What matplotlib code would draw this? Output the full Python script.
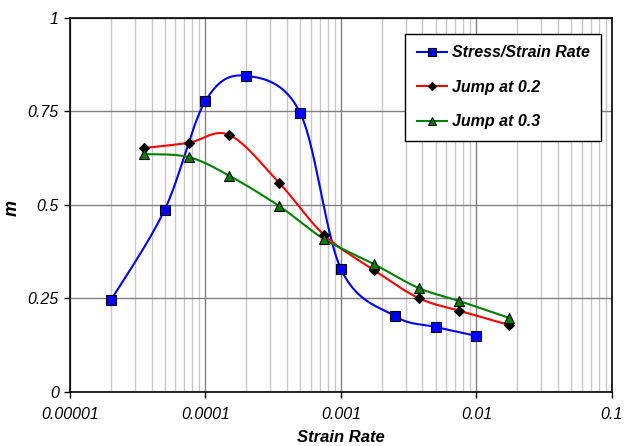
import numpy as np
import matplotlib
matplotlib.use("Agg")
import matplotlib.pyplot as plt
from matplotlib.ticker import FixedLocator, NullFormatter, LogLocator

plt.rcParams['font.family'] = ['Liberation Sans', 'DejaVu Sans']

# Data
stress_x = [2e-5, 5e-5, 1e-4, 2e-4, 5e-4, 1e-3, 2.5e-3, 5e-3, 1e-2]
stress_y = [0.245, 0.487, 0.778, 0.845, 0.746, 0.329, 0.203, 0.174, 0.150]

jump_x = [3.5e-5, 7.5e-5, 1.5e-4, 3.5e-4, 7.5e-4, 1.75e-3, 3.75e-3, 7.5e-3, 1.75e-2]
jump02_y = [0.652, 0.666, 0.687, 0.559, 0.420, 0.326, 0.251, 0.217, 0.179]
jump03_y = [0.636, 0.628, 0.578, 0.497, 0.409, 0.342, 0.278, 0.243, 0.198]

labels = ["Stress/Strain Rate", "Jump at 0.2", "Jump at 0.3"]
xticks = [1e-5, 1e-4, 1e-3, 1e-2, 1e-1]
xticklabels = ["0.00001", "0.0001", "0.001", "0.01", "0.1"]
yticks = [0, 0.25, 0.5, 0.75, 1]
yticklabels = ["0", "0.25", "0.5", "0.75", "1"]

XMIN, XMAX, YMIN, YMAX = 1e-5, 1e-1, 0, 1


def smooth(xs, ys, n=30):
    # Excel-like smoothed line (Catmull-Rom Bezier) in normalized axis space
    u = (np.log10(xs) - np.log10(XMIN)) / (np.log10(XMAX) - np.log10(XMIN)) * 1.45
    v = (np.asarray(ys) - YMIN) / (YMAX - YMIN)
    P = np.column_stack([u, v])
    m = len(P)
    out = []
    for i in range(m - 1):
        p0 = P[i - 1] if i > 0 else P[i]
        p1 = P[i]
        p2 = P[i + 1]
        p3 = P[i + 2] if i + 2 < m else P[i + 1]
        c1 = p1 + (p2 - p0) / 6
        c2 = p2 - (p3 - p1) / 6
        t = np.linspace(0, 1, n)[:, None]
        seg = ((1 - t) ** 3) * p1 + 3 * ((1 - t) ** 2) * t * c1 + 3 * (1 - t) * t ** 2 * c2 + t ** 3 * p2
        out.append(seg if i == 0 else seg[1:])
    S = np.vstack(out)
    sx = 10 ** (S[:, 0] / 1.45 * (np.log10(XMAX) - np.log10(XMIN)) + np.log10(XMIN))
    sy = S[:, 1] * (YMAX - YMIN) + YMIN
    return sx, sy


fig = plt.figure(figsize=(6.25, 4.46), dpi=100)
ax = fig.add_axes([0.112, 0.121, 0.867, 0.839])
ax.set_xscale('log')
ax.set_xlim(XMIN, XMAX)
ax.set_ylim(YMIN, YMAX)

series = [
    (stress_x, stress_y, '#0000ff', 's', '#0000ff', 7.5),
    (jump_x, jump02_y, '#ff0000', 'D', '#000000', 5.5),
    (jump_x, jump03_y, '#008000', '^', '#008000', 7.5),
]
handles = []
for (xs, ys, col, mk, mfc, ms), lab in zip(series, labels):
    sx, sy = smooth(xs, ys)
    ax.plot(sx, sy, color=col, lw=1.5, zorder=3)
    ax.plot(xs, ys, ls='none', marker=mk, ms=ms, mfc=mfc, mec='black', mew=0.8, zorder=4)
    h, = ax.plot([], [], color=col, lw=1.5, marker=mk, ms=ms - 1.5, mfc=mfc, mec='black', mew=0.8)
    handles.append(h)

ax.xaxis.set_major_locator(FixedLocator(xticks))
ax.set_xticklabels(xticklabels, fontsize=11.5)
ax.xaxis.set_minor_locator(LogLocator(base=10, subs=np.arange(2, 10)))
ax.xaxis.set_minor_formatter(NullFormatter())
ax.set_yticks(yticks)
ax.set_yticklabels(yticklabels, fontsize=11.5)
for t in ax.get_xticklabels() + ax.get_yticklabels():
    t.set_fontstyle('italic')

ax.grid(which='major', color='#808080', lw=1.0, zorder=1)
ax.grid(which='minor', axis='x', color='#c8c8c8', lw=1.0, zorder=1)
ax.set_axisbelow(True)
ax.tick_params(which='major', direction='out', length=4, width=1, color='black')
ax.tick_params(axis='x', which='major', pad=7)
ax.tick_params(axis='y', which='major', pad=4)
ax.tick_params(which='minor', length=0)
for s in ax.spines.values():
    s.set_color('black')
    s.set_linewidth(1.2)

ax.set_xlabel("Strain Rate", fontweight='bold', fontstyle='italic', fontsize=12)
ax.xaxis.set_label_coords(0.5, -0.102)
ax.set_ylabel("m", fontweight='bold', fontstyle='italic', fontsize=13)
ax.yaxis.set_label_coords(-0.107, 0.492)
ax.yaxis.label.set_va('center')
ax.xaxis.label.set_va('top')

leg = ax.legend(handles, labels, loc='upper right', bbox_to_anchor=(0.98, 0.957),
                borderaxespad=0, frameon=True, fancybox=False, edgecolor='black', framealpha=1,
                prop={'weight': 'bold', 'style': 'italic', 'size': 11.5},
                handlelength=1.9, labelspacing=1.22, borderpad=0.72, handletextpad=0.3)
leg.get_frame().set_linewidth(1.0)
leg.set_zorder(10)

fig.savefig("out.png", dpi=100)
